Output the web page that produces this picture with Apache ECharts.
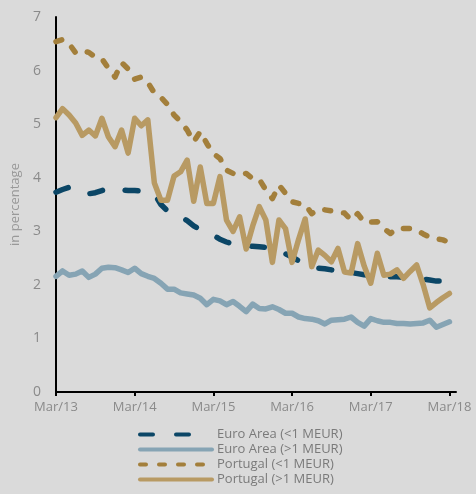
<!DOCTYPE html>
<html>
<head>
<meta charset="utf-8">
<script src="https://cdn.jsdelivr.net/npm/echarts@6/dist/echarts.min.js"></script>
<style>
html,body{margin:0;padding:0;background:#dadada;}
#chart{width:476px;height:494px;}
</style>
</head>
<body>
<div id="chart"></div>
<script>
const months = [
 'Mar/13','Apr/13','May/13','Jun/13','Jul/13','Aug/13','Sep/13','Oct/13','Nov/13','Dec/13','Jan/14','Feb/14',
 'Mar/14','Apr/14','May/14','Jun/14','Jul/14','Aug/14','Sep/14','Oct/14','Nov/14','Dec/14','Jan/15','Feb/15',
 'Mar/15','Apr/15','May/15','Jun/15','Jul/15','Aug/15','Sep/15','Oct/15','Nov/15','Dec/15','Jan/16','Feb/16',
 'Mar/16','Apr/16','May/16','Jun/16','Jul/16','Aug/16','Sep/16','Oct/16','Nov/16','Dec/16','Jan/17','Feb/17',
 'Mar/17','Apr/17','May/17','Jun/17','Jul/17','Aug/17','Sep/17','Oct/17','Nov/17','Dec/17','Jan/18','Feb/18',
 'Mar/18','Apr/18'
];
const seriesNames = ['Euro Area (<1 MEUR)','Euro Area (>1 MEUR)','Portugal (<1 MEUR)','Portugal (>1 MEUR)'];
const euroSmall = [3.73,3.78,3.82,3.78,3.72,3.70,3.72,3.76,3.80,3.78,3.77,3.76,
 3.76,3.75,3.73,3.70,3.50,3.38,3.30,3.27,3.20,3.10,3.03,2.99,
 2.93,2.85,2.80,2.76,2.74,2.73,2.72,2.71,2.70,2.68,2.65,2.58,
 2.52,2.45,2.40,2.34,2.31,2.30,2.28,2.27,2.25,2.23,2.21,2.19,
 2.18,2.17,2.16,2.15,2.15,2.14,2.13,2.12,2.11,2.09,2.07,2.07,2.09];
const euroLarge = [2.16,2.26,2.18,2.20,2.26,2.14,2.20,2.31,2.33,2.32,2.28,2.23,
 2.31,2.21,2.16,2.12,2.03,1.92,1.92,1.85,1.83,1.81,1.75,1.63,
 1.73,1.70,1.63,1.69,1.60,1.50,1.64,1.56,1.55,1.59,1.54,1.47,
 1.47,1.40,1.37,1.36,1.33,1.27,1.34,1.35,1.36,1.40,1.30,1.23,
 1.37,1.33,1.30,1.30,1.28,1.28,1.27,1.28,1.29,1.34,1.21,1.26,1.31];
const ptSmall = [6.54,6.58,6.50,6.33,6.37,6.34,6.25,6.22,6.04,5.88,6.15,6.03,
 5.84,5.88,5.78,5.58,5.50,5.37,5.17,5.05,4.89,4.67,4.86,4.64,
 4.45,4.36,4.14,4.08,4.05,4.08,3.98,3.97,3.77,3.61,3.86,3.71,
 3.55,3.52,3.50,3.33,3.41,3.40,3.38,3.36,3.34,3.21,3.33,3.17,
 3.17,3.18,3.05,2.96,3.05,3.05,3.05,3.02,2.95,2.89,2.86,2.84,2.79];
const ptLarge = [5.12,5.29,5.17,5.02,4.79,4.89,4.78,5.11,4.76,4.58,4.89,4.46,
 5.11,4.97,5.08,3.90,3.58,3.58,4.03,4.11,4.33,3.56,4.20,3.52,
 3.52,4.02,3.21,3.00,3.27,2.67,3.10,3.46,3.21,2.42,3.21,3.05,
 2.42,2.85,3.23,2.34,2.65,2.55,2.43,2.68,2.24,2.22,2.77,2.35,
 2.03,2.59,2.18,2.20,2.28,2.12,2.25,2.37,2.00,1.57,1.67,1.76,1.84];
const yTicks = [0,1,2,3,4,5,6,7];

const colors = ['#0b4666','#86a4b4','#a37f3b','#b89a63'];
const font = '"Open Sans", "Noto Sans", sans-serif';

const chart = echarts.init(document.getElementById('chart'), null, {renderer:'canvas'});
function mk(name, data, color, type){
  return {
    name, type:'line', data, symbol:'none', showSymbol:false,
    lineStyle:{color, width:5.5, type, cap:'round', join:'round'},
    itemStyle:{color},
    z: 2
  };
}
chart.setOption({
  backgroundColor:'#dadada',
  animation:false,
  grid:{left:56, right:20, top:17, bottom:102, containLabel:false},
  xAxis:{
    type:'category', data:months, boundaryGap:false,
    axisLine:{lineStyle:{color:'#000', width:2}},
    axisTick:{interval:11, length:4, lineStyle:{color:'#000', width:2}},
    axisLabel:{interval:11, color:'#8a8a8a', fontSize:13, fontFamily:font, margin:9},
    splitLine:{show:false}
  },
  yAxis:{
    type:'value', min:yTicks[0], max:yTicks[yTicks.length-1], interval:1,
    name:'in percentage', nameLocation:'middle', nameGap:34,
    nameTextStyle:{color:'#999', fontSize:13, fontFamily:font},
    axisLine:{show:true, lineStyle:{color:'#000', width:2}},
    axisTick:{show:false},
    axisLabel:{color:'#8a8a8a', fontSize:14, fontFamily:font, margin:15},
    splitLine:{show:false}
  },
  legend:{
    orient:'vertical', left:138, top:428, padding:0,
    itemWidth:72, itemHeight:14, itemGap:2,
    itemStyle:{opacity:0, borderWidth:0},
    lineStyle:{width:4, cap:'round'},
    textStyle:{color:'#7a7a7a', fontSize:13, fontFamily:font},
    data:seriesNames
  },
  series:[
    mk(seriesNames[0], euroSmall, colors[0], [13,23]),
    mk(seriesNames[1], euroLarge, colors[1], 'solid'),
    mk(seriesNames[2], ptSmall, colors[2], [6,13]),
    mk(seriesNames[3], ptLarge, colors[3], 'solid')
  ]
});
</script>
</body>
</html>
